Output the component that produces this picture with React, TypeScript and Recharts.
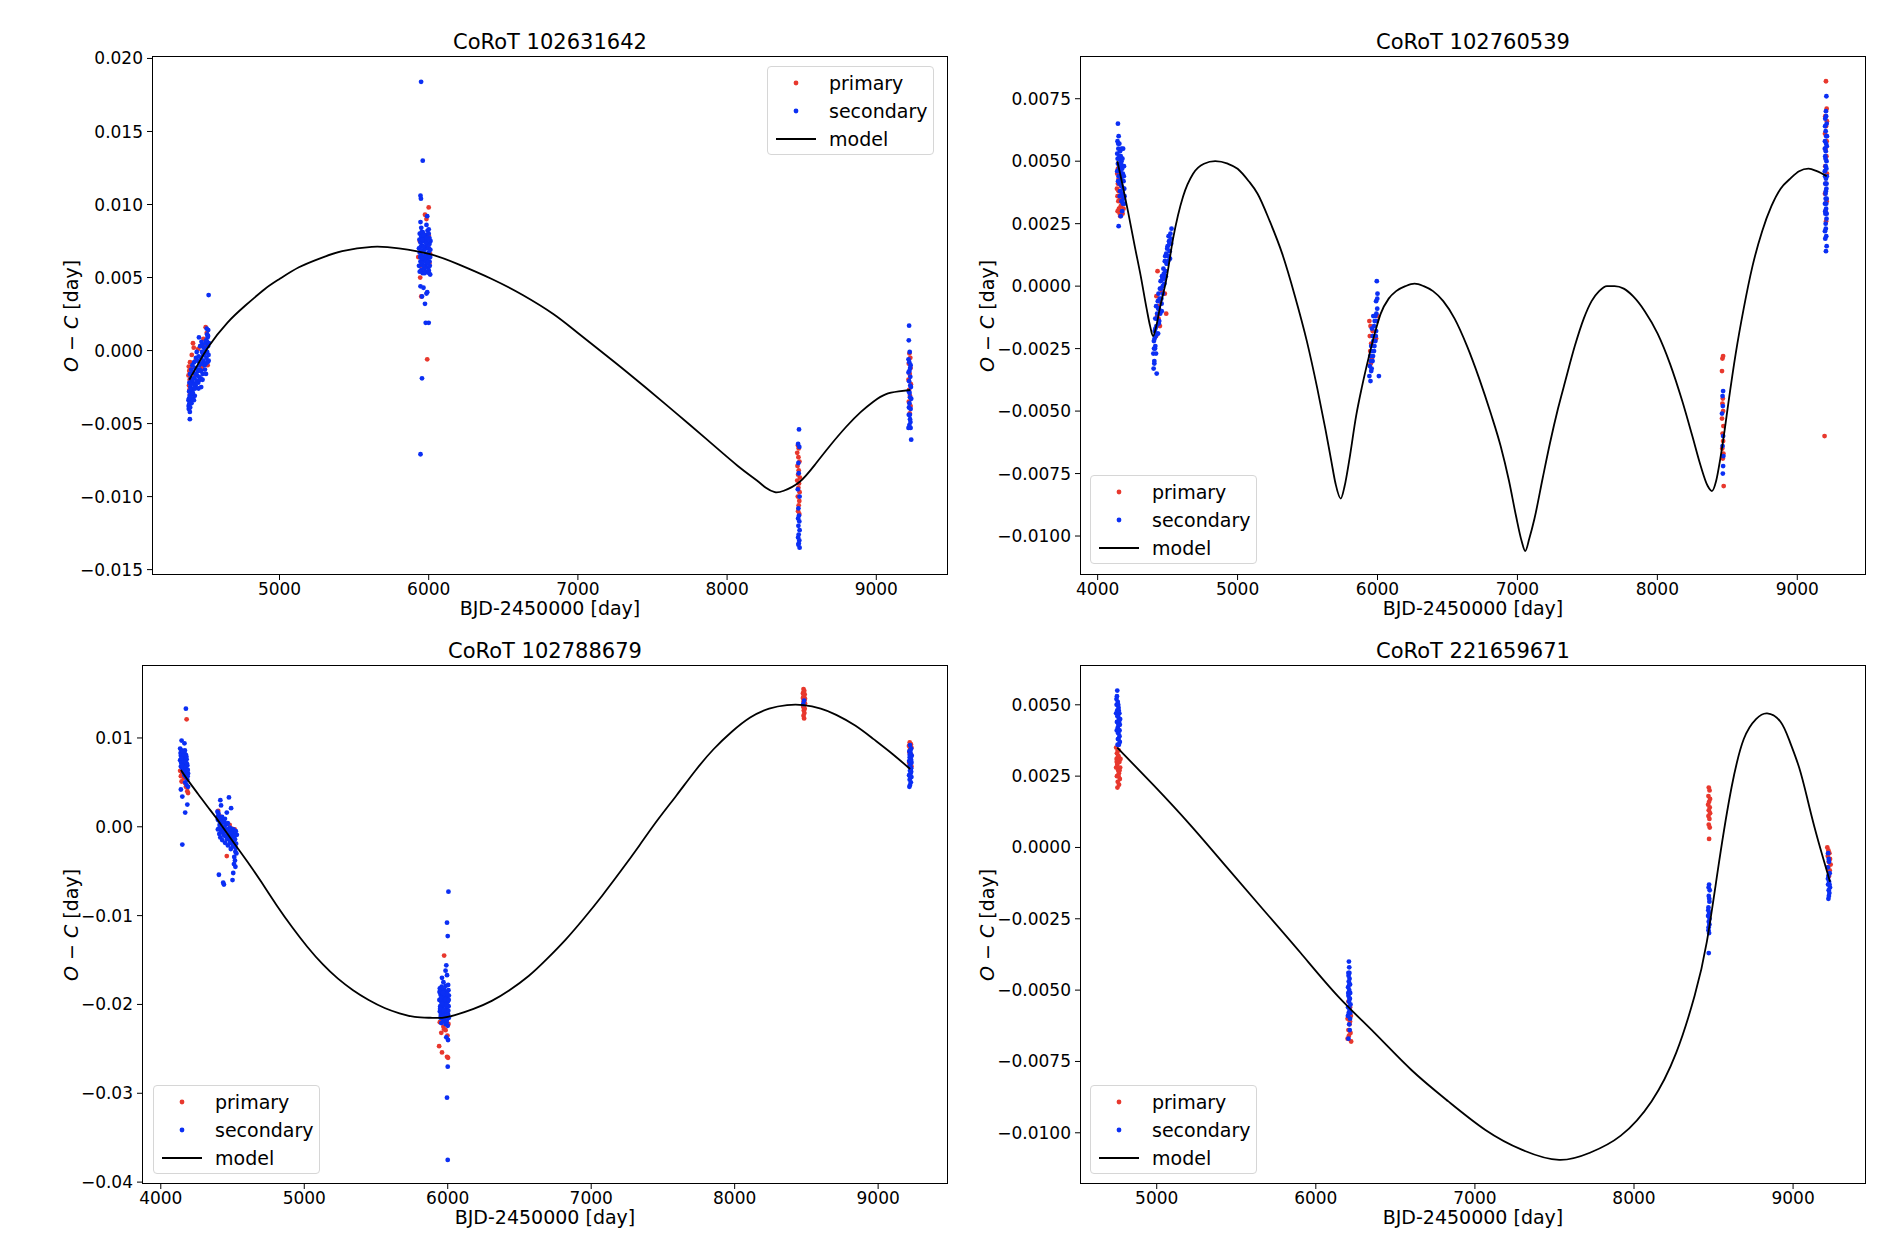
import React from "react";
import { ComposedChart, Scatter, Line, XAxis, YAxis } from "recharts";

type Pt = [number, number];

const FONT = "DejaVu Sans";
const RED = "#e8382d";
const BLUE = "#0b2ff4";

// ---------- CoRoT 102631642 (top left) ----------
const tlPrimary: Pt[] = [
  [4392, -0.0011], [4395, -0.0014], [4390, -0.0017], [4398, -0.002], [4393, -0.0024], [4400, -0.0008],
  [4405, -0.0012], [4412, -0.0003], [4420, 0.0005], [4425, 0.0002], [4440, -0.0006], [4455, 0.0001],
  [4470, 0.0003], [4490, 0.0008], [4505, 0.0016], [4512, 0.0012], [4518, -0.001], [4508, 0.0004],
  [4480, -0.0012], [4430, -0.0016], [4400, -0.003], [4396, -0.0027],
  [6000, 0.0098], [5975, 0.0093], [5985, 0.009], [5943, 0.005], [5950, 0.0037], [5990, -0.0006],
  [5940, 0.0075], [6005, 0.006], [5955, 0.0068], [5995, 0.0071], [5930, 0.0064], [6010, 0.0066],
  [5945, 0.0058], [6000, 0.0079],
  [8475, -0.0065], [8480, -0.0067], [8470, -0.007], [8478, -0.0073], [8485, -0.0076], [8472, -0.0079],
  [8480, -0.0082], [8476, -0.0085], [8488, -0.0087], [8470, -0.0089], [8482, -0.0091], [8478, -0.0094],
  [8486, -0.0097], [8474, -0.01], [8484, -0.0103], [8480, -0.0106], [8476, -0.011], [8484, -0.0112],
  [9222, -0.0002], [9228, -0.0005], [9218, -0.0009], [9230, -0.0012], [9224, -0.0016], [9216, -0.002],
  [9232, -0.0023], [9220, -0.0027], [9226, -0.0031], [9218, -0.0035], [9230, -0.0038], [9224, -0.0043],
];
const tlSecondary: Pt[] = [
  [4392, -0.004], [4395, -0.0037], [4390, -0.0034], [4398, -0.0031], [4394, -0.0028], [4402, -0.0025],
  [4396, -0.0022], [4405, -0.0019], [4400, -0.0016], [4408, -0.0013], [4391, -0.0038], [4399, -0.0042],
  [4403, -0.0035], [4407, -0.0029], [4399, -0.0047],
  [4415, -0.0033], [4420, -0.003], [4425, -0.0026], [4418, -0.0022], [4430, -0.0019], [4422, -0.0015],
  [4435, -0.0012], [4428, -0.0008], [4440, -0.0005], [4445, -0.0001], [4438, -0.0024], [4448, -0.0017],
  [4412, -0.0027], [4432, -0.0031],
  [4455, -0.0022], [4460, -0.0018], [4465, -0.0013], [4470, -0.0009], [4475, -0.0005], [4480, -0.0001],
  [4468, 0.0003], [4460, 0.0009], [4475, -0.0025], [4485, -0.0016], [4490, -0.0007], [4458, -0.0004],
  [4482, 0.0004], [4472, -0.0019],
  [4500, -0.0013], [4505, -0.0009], [4510, -0.0005], [4515, -0.0001], [4520, 0.0003], [4508, 0.0007],
  [4515, 0.0011], [4522, 0.0014], [4512, 0.0015], [4525, -0.0007], [4518, 0.0009], [4502, 0.0001],
  [4495, -0.0003], [4525, 0.0038],
  [4393, -0.0033], [4397, -0.0036], [4401, -0.0039], [4404, -0.0032], [4406, -0.0023], [4410, -0.0036],
  [4413, -0.002], [4416, -0.001], [4419, -0.0029], [4423, -0.0019], [4426, -0.0034], [4429, -0.0023],
  [4433, -0.0026], [4436, -0.0016], [4442, -0.0012], [4446, -0.0021], [4451, -0.0007], [4453, -0.0014],
  [4457, -0.0026], [4462, -0.001], [4466, -0.002], [4473, -0.0014], [4477, 0.0006], [4479, -0.0009],
  [4484, -0.002], [4488, -0.0003], [4492, 0.0002], [4497, -0.001], [4503, 0.0005], [4507, -0.0016],
  [4511, -0.0001], [4514, 0.0006], [4517, -0.0008], [4521, 0.001], [4524, -0.0003], [4527, 0.0005],
  [5940, 0.008], [5950, 0.0078], [5960, 0.0081], [5970, 0.0077], [5980, 0.0079], [5990, 0.0076],
  [6000, 0.008], [6005, 0.0077], [5945, 0.0074], [5955, 0.0072], [5965, 0.0075], [5975, 0.0071],
  [5985, 0.0073], [5995, 0.007], [6005, 0.0073], [5935, 0.007], [5940, 0.0067], [5950, 0.0065],
  [5960, 0.0068], [5970, 0.0064], [5980, 0.0066], [5990, 0.0063], [6000, 0.0067], [6010, 0.0064],
  [5945, 0.0061], [5955, 0.0059], [5965, 0.0062], [5975, 0.0058], [5985, 0.006], [5995, 0.0057],
  [6005, 0.0061], [5935, 0.0058], [5950, 0.0055], [5960, 0.0053], [5970, 0.0056], [5985, 0.0054],
  [6000, 0.0055], [6010, 0.0052],
  [5938, 0.0076], [5943, 0.0064], [5947, 0.0071], [5953, 0.0081], [5957, 0.0063], [5962, 0.0058],
  [5967, 0.0079], [5972, 0.0069], [5977, 0.0061], [5982, 0.0074], [5987, 0.0066], [5992, 0.0082],
  [5997, 0.0064], [6002, 0.007], [6007, 0.0058], [6012, 0.0075], [5940, 0.0054], [5952, 0.006],
  [5963, 0.0071], [5973, 0.0053], [5983, 0.0077], [5993, 0.006], [6003, 0.0053], [6011, 0.0069],
  [5958, 0.0076], [5978, 0.0065], [5998, 0.0076], [5948, 0.0068],
  [5949, 0.0184], [5960, 0.013], [5945, 0.0106], [5948, 0.0104], [5990, 0.0092], [5945, 0.0088],
  [5985, 0.0086], [6000, 0.0083], [5950, 0.0084], [5945, 0.0044], [5965, 0.0043], [5990, 0.004],
  [5955, 0.0037], [5975, 0.0032], [5985, 0.0039], [5980, 0.0019], [6000, 0.0019], [5955, -0.0019],
  [5945, -0.0071],
  [8482, -0.0054], [8476, -0.0064], [8484, -0.0066], [8478, -0.0077], [8480, -0.0084], [8474, -0.0095],
  [8486, -0.01], [8478, -0.0108], [8482, -0.0113], [8476, -0.0115], [8484, -0.0117], [8478, -0.012],
  [8486, -0.0123], [8480, -0.0126], [8476, -0.0128], [8484, -0.013], [8480, -0.0132], [8486, -0.0135],
  [8478, -0.0133],
  [9220, 0.0017], [9218, 0.0007], [9224, -0.0001], [9216, -0.0006], [9230, -0.001], [9222, -0.0014],
  [9228, -0.0018], [9220, -0.0021], [9232, -0.0025], [9218, -0.0028], [9226, -0.0032], [9222, -0.0036],
  [9230, -0.004], [9218, -0.0044], [9226, -0.0047], [9222, -0.0051], [9230, -0.0053], [9216, -0.0053],
  [9234, -0.0061], [9228, -0.0024], [9216, -0.0015], [9234, -0.0033], [9221, -0.0008], [9227, -0.0012],
  [9219, -0.0039], [9225, -0.0044], [9223, -0.0029], [9229, -0.0049],
];
const tlModel: Pt[] = [
  [4395, -0.002], [4450, -0.001], [4526, 0.0003], [4650, 0.0019], [4773, 0.0031], [4900, 0.0042],
  [5000, 0.0049], [5130, 0.0057], [5268, 0.0063], [5420, 0.0068], [5619, 0.0071], [5800, 0.007],
  [6010, 0.0066], [6200, 0.0059], [6423, 0.0049], [6630, 0.0038], [6835, 0.0025], [7000, 0.0012],
  [7247, -0.0008], [7450, -0.0025], [7660, -0.0043], [7866, -0.0061], [8072, -0.0079], [8200, -0.0089],
  [8260, -0.0094], [8320, -0.0097], [8380, -0.0096], [8485, -0.009], [8590, -0.0078], [8691, -0.0065],
  [8800, -0.0052], [8897, -0.0042], [8980, -0.0035], [9062, -0.003], [9150, -0.0028], [9227, -0.0027],
];
const tlXTicks = [5000, 6000, 7000, 8000, 9000];
const tlYTicks = [-0.015, -0.01, -0.005, 0, 0.005, 0.01, 0.015, 0.02];

// ---------- CoRoT 102760539 (top right) ----------
const trPrimary: Pt[] = [
  [4140, 0.0045], [4150, 0.0043], [4145, 0.0041], [4138, 0.0039], [4155, 0.0038], [4142, 0.0036],
  [4160, 0.0035], [4148, 0.0034], [4165, 0.0032], [4152, 0.0031], [4170, 0.003], [4158, 0.0029],
  [4175, 0.0033], [4162, 0.0028], [4180, 0.0036], [4145, 0.0047], [4168, 0.004], [4185, 0.0031],
  [4143, 0.003], [4157, 0.0042], [4172, 0.0037], [4178, 0.0029], [4164, 0.0034], [4150, 0.0038],
  [4420, -0.0004], [4430, -0.0008], [4425, -0.0012], [4440, -0.0006], [4435, -0.0013], [4450, -0.001],
  [4445, -0.0016], [4428, 0.0006], [4490, -0.0011], [4480, -0.0003], [4418, -0.002], [4460, -0.0002],
  [5950, -0.0016], [5945, -0.002], [5955, -0.0023], [5948, -0.0026], [5960, -0.0029], [5952, -0.0031],
  [5965, -0.0018], [5990, -0.0021], [6000, -0.0012], [5942, -0.0014],
  [8465, -0.0029], [8470, -0.0028], [8462, -0.0034], [8468, -0.0045], [8465, -0.0047], [8470, -0.005],
  [8462, -0.0053], [8472, -0.0056], [8466, -0.0059], [8470, -0.0062], [8464, -0.0065], [8472, -0.0067],
  [8468, -0.0069], [8474, -0.008],
  [9205, 0.0082], [9210, 0.0071], [9200, 0.0068], [9212, 0.0066], [9205, 0.0064], [9198, 0.0061],
  [9210, 0.0058], [9202, 0.0055], [9208, 0.0052], [9200, 0.0048], [9212, 0.0045], [9204, 0.0041],
  [9198, 0.0037], [9210, 0.0034], [9202, 0.003], [9206, 0.0026], [9195, -0.006],
];
const trSecondary: Pt[] = [
  [4145, 0.0065], [4150, 0.006], [4142, 0.0058], [4155, 0.0057], [4148, 0.0055], [4160, 0.0054],
  [4140, 0.0053], [4165, 0.0052], [4152, 0.0051], [4170, 0.005], [4145, 0.0049], [4158, 0.0048],
  [4175, 0.0047], [4162, 0.0046], [4180, 0.0045], [4150, 0.0044], [4168, 0.0043], [4185, 0.0042],
  [4155, 0.0041], [4172, 0.004], [4190, 0.0039], [4160, 0.0038], [4178, 0.0037], [4185, 0.0035],
  [4170, 0.0034], [4190, 0.0033], [4175, 0.003], [4165, 0.0028], [4150, 0.0024], [4182, 0.0055],
  [4188, 0.0048], [4140, 0.0046],
  [4143, 0.0051], [4147, 0.0057], [4153, 0.0047], [4157, 0.0052], [4163, 0.0044], [4167, 0.0049],
  [4173, 0.0042], [4177, 0.0051], [4183, 0.0039], [4187, 0.0044], [4192, 0.0036], [4146, 0.0042],
  [4171, 0.0055], [4158, 0.0036], [4181, 0.0033],
  [4400, -0.0033], [4405, -0.003], [4398, -0.0027], [4410, -0.0025], [4402, -0.0022], [4415, -0.002],
  [4408, -0.0018], [4420, -0.0016], [4412, -0.0013], [4425, -0.0011], [4418, -0.0008], [4430, -0.0006],
  [4435, -0.0003], [4440, -0.0014], [4445, -0.0001], [4450, 0.0002], [4455, -0.0005], [4460, 0.0004],
  [4465, 0], [4470, 0.0007], [4475, 0.0003], [4480, 0.001], [4485, 0.0006], [4490, 0.0013],
  [4495, 0.0009], [4500, 0.0016], [4505, 0.0012], [4510, 0.0018], [4515, 0.0014], [4520, 0.0021],
  [4525, 0.0017], [4528, 0.0023], [4422, -0.0035], [4405, -0.0031], [4412, -0.0024], [4432, -0.0019],
  [4438, -0.0009], [4458, -0.001],
  [4403, -0.0025], [4407, -0.0021], [4413, -0.0017], [4417, -0.0027], [4423, -0.0013], [4427, -0.0019],
  [4433, -0.0009], [4437, -0.0015], [4443, -0.0005], [4447, -0.0011], [4453, -0.0001], [4457, -0.0007],
  [4463, 0.0003], [4467, -0.0003], [4473, 0.0005], [4477, 0.0001], [4483, 0.0012], [4487, 0.0004],
  [4493, 0.0009], [4497, 0.0015], [4503, 0.001], [4507, 0.002], [4513, 0.0017], [4517, 0.0011],
  [4523, 0.0019],
  [5995, 0.0002], [6000, -0.0003], [5990, -0.0006], [5998, -0.0009], [5985, -0.0012], [5995, -0.0014],
  [5975, -0.0016], [5990, -0.0018], [5965, -0.002], [5985, -0.0022], [5955, -0.0024], [5975, -0.0026],
  [5948, -0.0028], [5965, -0.003], [5945, -0.0032], [5955, -0.0034], [5942, -0.0036], [5950, -0.0038],
  [6010, -0.0036], [5970, -0.0012], [5960, -0.0017], [5998, -0.0005], [5980, -0.0014], [5988, -0.002],
  [5970, -0.0022], [5960, -0.0026], [5952, -0.003], [5958, -0.0033], [5968, -0.0028], [5978, -0.0024],
  [5992, -0.0011],
  [8470, -0.0042], [8466, -0.0044], [8468, -0.0048], [8462, -0.0051], [8470, -0.006], [8466, -0.0064],
  [8472, -0.0068], [8470, -0.0072], [8468, -0.0075],
  [9208, 0.0076], [9205, 0.007], [9200, 0.0067], [9210, 0.0065], [9203, 0.0062], [9207, 0.006],
  [9198, 0.0058], [9211, 0.0056], [9204, 0.0054], [9200, 0.0052], [9209, 0.005], [9203, 0.0048],
  [9197, 0.0046], [9211, 0.0044], [9205, 0.0043], [9200, 0.0041], [9208, 0.0039], [9202, 0.0037],
  [9210, 0.0035], [9198, 0.0033], [9206, 0.0031], [9201, 0.0029], [9209, 0.0027], [9203, 0.0025],
  [9198, 0.0022], [9207, 0.002], [9200, 0.0019], [9210, 0.0016], [9205, 0.0014],
  [9199, 0.0064], [9206, 0.0057], [9202, 0.0051], [9208, 0.0047], [9199, 0.0044], [9204, 0.0038],
  [9207, 0.0033], [9200, 0.003], [9210, 0.0029], [9204, 0.0023], [9212, 0.006], [9197, 0.0055],
  [9209, 0.0041], [9203, 0.0035], [9206, 0.0068],
];
const trModel: Pt[] = [
  [4141, 0.005], [4180, 0.004], [4220, 0.0029], [4265, 0.0016], [4308, 0.0004], [4350, -0.0009],
  [4375, -0.0016], [4396, -0.002], [4415, -0.0017], [4444, -0.0009], [4492, 0.0003], [4539, 0.0019],
  [4611, 0.0036], [4682, 0.0045], [4760, 0.0049], [4840, 0.005], [4930, 0.0049], [5000, 0.0047],
  [5080, 0.0042], [5143, 0.0037], [5230, 0.0026], [5319, 0.0013], [5410, -0.0004], [5495, -0.0022],
  [5570, -0.0041], [5627, -0.0057], [5670, -0.007], [5700, -0.0079], [5737, -0.0085], [5765, -0.008],
  [5800, -0.0069], [5847, -0.0052], [5890, -0.004], [5935, -0.0029], [5980, -0.0019], [6023, -0.0011],
  [6080, -0.0005], [6133, -0.0002], [6200, 0], [6265, 0.0001], [6330, 0], [6397, -0.0002],
  [6470, -0.0006], [6551, -0.0013], [6640, -0.0024], [6727, -0.0037], [6810, -0.0051], [6880, -0.0064],
  [6940, -0.0078], [6990, -0.0092], [7030, -0.0102], [7056, -0.0106], [7085, -0.0101], [7122, -0.0093],
  [7180, -0.0077], [7232, -0.0063], [7290, -0.0049], [7342, -0.0038], [7410, -0.0024], [7474, -0.0013],
  [7530, -0.0006], [7584, -0.0002], [7640, 0], [7694, 0], [7760, -0.0001], [7826, -0.0004],
  [7910, -0.001], [8002, -0.0019], [8090, -0.0031], [8178, -0.0046], [8250, -0.006], [8310, -0.0072],
  [8360, -0.008], [8390, -0.0082], [8420, -0.0078], [8450, -0.0069], [8480, -0.0058], [8507, -0.0047],
  [8560, -0.0027], [8617, -0.0009], [8680, 0.0008], [8749, 0.0022], [8815, 0.0032], [8881, 0.0039],
  [8950, 0.0043], [9013, 0.0046], [9080, 0.0047], [9140, 0.0046], [9210, 0.0044],
];
const trXTicks = [4000, 5000, 6000, 7000, 8000, 9000];
const trYTicks = [-0.01, -0.0075, -0.005, -0.0025, 0, 0.0025, 0.005, 0.0075];

// ---------- CoRoT 102788679 (bottom left) ----------
const blPrimary: Pt[] = [
  [4180, 0.0121], [4150, 0.006], [4140, 0.0057], [4160, 0.0055], [4145, 0.0051], [4170, 0.0049],
  [4175, 0.0045], [4185, 0.004], [4190, 0.0038], [4135, 0.0063], [4155, 0.0068], [4165, 0.0072],
  [4400, 0.0018], [4410, 0.0012], [4420, 0.0008], [4480, 0.0002], [4495, -0.0002], [4505, -0.0006],
  [4510, -0.001], [4500, -0.0014], [4515, -0.0003], [4460, -0.0033], [4450, -0.0005],
  [5975, -0.0145], [5950, -0.0205], [5960, -0.0212], [5990, -0.0208], [6000, -0.0215], [5945, -0.022],
  [5970, -0.0225], [6005, -0.0222], [5985, -0.0229], [5955, -0.0232], [5998, -0.0235], [5940, -0.0247],
  [5960, -0.0254], [5995, -0.0259], [6002, -0.026], [5975, -0.0228],
  [8480, 0.0155], [8485, 0.0153], [8478, 0.0151], [8488, 0.0149], [8482, 0.0147], [8476, 0.0145],
  [8486, 0.0143], [8480, 0.0141], [8490, 0.0139], [8484, 0.0137], [8478, 0.0135], [8488, 0.0133],
  [8482, 0.0131], [8486, 0.0128], [8480, 0.0125], [8484, 0.0122], [8476, 0.015], [8490, 0.0144],
  [9220, 0.0095], [9228, 0.0093], [9215, 0.0091], [9232, 0.0089], [9222, 0.0087], [9218, 0.0084],
  [9230, 0.0081], [9225, 0.0078], [9216, 0.0072], [9232, 0.0068],
];
const blSecondary: Pt[] = [
  [4135, 0.0088], [4145, 0.0086], [4155, 0.0084], [4165, 0.0083], [4175, 0.0081], [4140, 0.008],
  [4150, 0.0079], [4160, 0.0078], [4170, 0.0077], [4180, 0.0076], [4135, 0.0075], [4145, 0.0074],
  [4155, 0.0072], [4165, 0.0071], [4175, 0.007], [4185, 0.0069], [4140, 0.0068], [4150, 0.0066],
  [4160, 0.0065], [4170, 0.0064], [4180, 0.0062], [4190, 0.006], [4165, 0.0058], [4175, 0.0056],
  [4185, 0.0053], [4170, 0.005], [4180, 0.0047], [4190, 0.0045],
  [4138, 0.0083], [4142, 0.0072], [4148, 0.0082], [4152, 0.0069], [4158, 0.0081], [4162, 0.0074],
  [4168, 0.0086], [4172, 0.0067], [4178, 0.0079], [4182, 0.0071], [4188, 0.0064], [4143, 0.0077],
  [4157, 0.0062], [4177, 0.0059], [4187, 0.0057], [4163, 0.0061], [4153, 0.0085], [4173, 0.0073],
  [4175, 0.0133], [4145, 0.0097], [4165, 0.0094], [4150, 0.0034], [4185, 0.0025], [4170, 0.0016],
  [4150, -0.002], [4140, 0.0042],
  [4395, 0.0017], [4400, 0.0012], [4405, 0.0007], [4410, 0.0002], [4398, -0.0003], [4408, -0.0008],
  [4415, -0.0012], [4420, 0.001], [4425, 0.0004], [4430, -0.0002], [4435, -0.0007], [4428, -0.0015],
  [4440, 0.0006], [4445, 0], [4450, -0.0005], [4455, -0.0011], [4448, -0.0018], [4460, 0.0003],
  [4465, -0.0003], [4470, -0.0009], [4475, -0.0014], [4468, -0.0021], [4480, -0.0001], [4485, -0.0007],
  [4490, -0.0012], [4495, -0.0018], [4488, -0.0025], [4500, -0.0005], [4505, -0.0011], [4510, -0.0016],
  [4515, -0.0022], [4520, -0.0028], [4512, -0.0034], [4525, -0.0019], [4530, -0.0009],
  [4398, 0.0008], [4402, 0.0015], [4405, -0.0002], [4412, 0.0009], [4418, 0.0003], [4422, -0.0005],
  [4427, 0.0011], [4432, 0.0006], [4438, -0.0002], [4442, -0.001], [4447, 0.0009], [4452, 0.0003],
  [4457, -0.0004], [4462, -0.0014], [4467, 0.0004], [4472, -0.0004], [4477, -0.001], [4482, -0.0018],
  [4487, -0.0002], [4492, -0.0008], [4497, -0.0015], [4502, -0.0022], [4507, -0.0003], [4512, -0.0009],
  [4517, -0.0014], [4522, -0.0024], [4527, -0.003], [4517, -0.0038], [4510, -0.0042], [4523, -0.0005],
  [4415, 0.003], [4475, 0.0033], [4420, 0.0024], [4490, 0.0021], [4460, 0.0016], [4405, -0.0054],
  [4435, -0.0063], [4440, -0.0065], [4500, -0.006], [4505, -0.0052], [4520, -0.0045],
  [5945, -0.0182], [5960, -0.0185], [5975, -0.0183], [5990, -0.0186], [6005, -0.0184],
  [5950, -0.0189], [5965, -0.0191], [5980, -0.019], [5995, -0.0192], [6008, -0.019],
  [5942, -0.0195], [5955, -0.0197], [5970, -0.0196], [5985, -0.0198], [6000, -0.0197],
  [5948, -0.0202], [5962, -0.0203], [5978, -0.0201], [5992, -0.0204], [6006, -0.0202],
  [5945, -0.0208], [5958, -0.0209], [5972, -0.021], [5988, -0.0208], [6002, -0.0211],
  [5950, -0.0215], [5965, -0.0216], [5980, -0.0214], [5995, -0.0217], [6008, -0.0215],
  [5955, -0.0221], [5985, -0.0222], [6000, -0.0224],
  [5943, -0.0186], [5953, -0.0193], [5967, -0.0187], [5982, -0.0194], [5997, -0.0188], [6007, -0.0195],
  [5947, -0.0205], [5960, -0.0199], [5975, -0.0206], [5990, -0.02], [6004, -0.0207], [5952, -0.0212],
  [5968, -0.0213], [5983, -0.0218], [5998, -0.0212], [5958, -0.018], [5987, -0.0179], [6003, -0.0178],
  [5970, -0.0219], [5992, -0.022],
  [6005, -0.0073], [5995, -0.0108], [6000, -0.0123], [5990, -0.0156], [5985, -0.0162], [5970, -0.0175],
  [5960, -0.017], [5995, -0.0167], [5990, -0.0237], [6002, -0.024], [6000, -0.027], [5995, -0.0305],
  [6000, -0.0375],
  [8478, 0.0138], [8484, 0.0142],
  [9222, 0.0092], [9230, 0.0088], [9218, 0.0085], [9226, 0.0083], [9234, 0.008], [9220, 0.0078],
  [9228, 0.0076], [9216, 0.0074], [9232, 0.0072], [9224, 0.007], [9218, 0.0068], [9230, 0.0066],
  [9222, 0.0063], [9226, 0.006], [9216, 0.0058], [9232, 0.0056], [9220, 0.0053], [9228, 0.005],
  [9222, 0.0047], [9218, 0.0045], [9224, 0.0086], [9220, 0.0081], [9230, 0.0074], [9226, 0.0067],
  [9222, 0.0057], [9230, 0.0062],
];
const blModel: Pt[] = [
  [4140, 0.0064], [4200, 0.005], [4260, 0.0037], [4320, 0.0024], [4377, 0.0012], [4430, 0],
  [4500, -0.0016], [4549, -0.0027], [4620, -0.0043], [4700, -0.0062], [4806, -0.0088], [4920, -0.0114],
  [5021, -0.0135], [5130, -0.0155], [5235, -0.0171], [5340, -0.0184], [5449, -0.0195], [5560, -0.0204],
  [5664, -0.021], [5770, -0.0214], [5878, -0.0215], [5960, -0.0215], [6050, -0.0212], [6180, -0.0205],
  [6307, -0.0196], [6430, -0.0184], [6564, -0.0168], [6690, -0.0149], [6822, -0.0127], [6950, -0.0103],
  [7079, -0.0077], [7210, -0.0049], [7336, -0.0021], [7460, 0.0007], [7593, 0.0035], [7720, 0.0062],
  [7851, 0.0087], [7980, 0.0107], [8108, 0.0123], [8240, 0.0133], [8365, 0.0137], [8480, 0.0137],
  [8600, 0.0133], [8708, 0.0126], [8840, 0.0114], [8966, 0.0099], [9100, 0.0082], [9223, 0.0065],
];
const blXTicks = [4000, 5000, 6000, 7000, 8000, 9000];
const blYTicks = [-0.04, -0.03, -0.02, -0.01, 0, 0.01];

// ---------- CoRoT 221659671 (bottom right) ----------
const brPrimary: Pt[] = [
  [4745, 0.0035], [4755, 0.0034], [4750, 0.0033], [4760, 0.0032], [4748, 0.0031], [4765, 0.003],
  [4752, 0.0029], [4770, 0.0028], [4758, 0.0027], [4762, 0.0026], [4750, 0.0025], [4768, 0.0024],
  [4755, 0.0023], [4763, 0.0022], [4772, 0.0031], [4745, 0.0028], [4749, 0.003], [4757, 0.0032],
  [4760, 0.0025], [4766, 0.0027], [4753, 0.0021], [4761, 0.0034],
  [6205, -0.0054], [6215, -0.0056], [6210, -0.0058], [6200, -0.006], [6220, -0.0059], [6212, -0.0062],
  [6205, -0.0064], [6218, -0.0065], [6208, -0.0066], [6222, -0.0068], [6200, -0.0067], [6215, -0.0061],
  [8470, 0.0021], [8475, 0.002], [8468, 0.0018], [8478, 0.0017], [8472, 0.0016], [8466, 0.0015],
  [8476, 0.0014], [8470, 0.0013], [8478, 0.0012], [8468, 0.0011], [8474, 0.001], [8470, 0.0008],
  [8476, 0.0007], [8472, 0.0003],
  [9215, 0], [9222, -0.0001], [9228, -0.0002], [9218, -0.0003], [9232, -0.0004], [9224, -0.0005],
  [9236, -0.0006], [9220, -0.0007], [9230, -0.0008], [9226, -0.001],
];
const brSecondary: Pt[] = [
  [4752, 0.0055], [4750, 0.0053], [4755, 0.0051], [4748, 0.005], [4760, 0.0049], [4752, 0.0048],
  [4765, 0.0047], [4757, 0.0046], [4762, 0.0045], [4750, 0.0044], [4768, 0.0043], [4755, 0.0042],
  [4763, 0.0041], [4758, 0.004], [4766, 0.0039], [4760, 0.0038], [4768, 0.0037], [4762, 0.0036],
  [4745, 0.0047], [4770, 0.0045], [4747, 0.0052], [4753, 0.0046], [4758, 0.005], [4764, 0.0044],
  [4749, 0.0041], [4756, 0.0038], [4766, 0.0041], [4759, 0.0043], [4761, 0.0048], [4754, 0.0036],
  [6208, -0.004], [6210, -0.0042], [6205, -0.0044], [6212, -0.0046], [6207, -0.0047], [6215, -0.0048],
  [6203, -0.0049], [6210, -0.005], [6216, -0.0051], [6205, -0.0052], [6212, -0.0053], [6208, -0.0054],
  [6218, -0.0055], [6203, -0.0056], [6212, -0.0057], [6207, -0.0058], [6215, -0.006], [6210, -0.0062],
  [6213, -0.0064], [6205, -0.0067], [6206, -0.0045], [6211, -0.0048], [6204, -0.0051], [6214, -0.0053],
  [6209, -0.0056], [6202, -0.0059], [6217, -0.0058], [6211, -0.0044],
  [8472, -0.0013], [8476, -0.0015], [8470, -0.0017], [8474, -0.0019], [8468, -0.0021], [8472, -0.0023],
  [8466, -0.0024], [8470, -0.0026], [8474, -0.0027], [8468, -0.0029], [8472, -0.003], [8470, -0.0037],
  [8469, -0.0014], [8473, -0.0018], [8467, -0.0022], [8475, -0.0025], [8469, -0.0028],
  [9220, -0.0002], [9226, -0.0005], [9218, -0.0007], [9230, -0.0009], [9222, -0.001], [9226, -0.0012],
  [9220, -0.0013], [9232, -0.0014], [9224, -0.0015], [9228, -0.0016], [9222, -0.0018], [9224, -0.0004],
  [9219, -0.0011], [9229, -0.0013], [9225, -0.0017],
];
const brModel: Pt[] = [
  [4752, 0.0035], [4977, 0.0022], [5209, 0.0008], [5441, -0.0007], [5673, -0.0022], [5905, -0.0037],
  [6137, -0.0052], [6369, -0.0065], [6601, -0.0078], [6833, -0.0089], [7066, -0.0099], [7298, -0.0106],
  [7530, -0.01095], [7723, -0.0107], [7917, -0.0101], [8110, -0.0089], [8265, -0.0072], [8381, -0.0052],
  [8458, -0.0033], [8535, -0.0005], [8613, 0.0021], [8690, 0.0038], [8767, 0.0045], [8837, 0.0047],
  [8922, 0.0044], [8980, 0.0037], [9038, 0.0028], [9090, 0.0017], [9135, 0.0007], [9185, -0.0003],
  [9232, -0.0012],
];
const brXTicks = [5000, 6000, 7000, 8000, 9000];
const brYTicks = [-0.01, -0.0075, -0.005, -0.0025, 0, 0.0025, 0.005];

const toXY = (pts: Pt[]) => pts.map(([x, y]) => ({ x, y }));

const fmt = (d: number) => (v: number) =>
  v < 0 ? "\u2212" + Math.abs(v).toFixed(d) : v.toFixed(d);

const dot = (props: any) => <circle cx={props.cx} cy={props.cy} r={2.4} fill={props.fill} />;

interface PanelProps {
  title: string;
  left: number;
  top: number;
  right: number;
  bottom: number;
  xDomain: [number, number];
  yDomain: [number, number];
  xTicks: number[];
  yTicks: number[];
  decimals: number;
  primary: Pt[];
  secondary: Pt[];
  model: Pt[];
  curve: "monotone" | "natural";
  legend: [number, number];
  yLabelX: number;
}

function Legend({ left, top }: { left: number; top: number }) {
  const rows = [
    { label: "primary", kind: "dot", color: RED },
    { label: "secondary", kind: "dot", color: BLUE },
    { label: "model", kind: "line", color: "#000" },
  ];
  return (
    <div
      style={{
        position: "absolute",
        left,
        top,
        width: 167,
        height: 89,
        boxSizing: "border-box",
        border: "1px solid #d6d6d6",
        borderRadius: 4,
        background: "rgba(255,255,255,0.8)",
      }}
    >
      {rows.map((r, i) => (
        <div key={r.label} style={{ position: "absolute", left: 0, top: 4 + i * 28, height: 24, width: "100%" }}>
          <svg width={50} height={24} style={{ position: "absolute", left: 6, top: 0 }}>
            {r.kind === "dot" ? (
              <circle cx={22} cy={12} r={2.4} fill={r.color} />
            ) : (
              <line x1={2} y1={12} x2={42} y2={12} stroke="#000" strokeWidth={1.8} />
            )}
          </svg>
          <span style={{ position: "absolute", left: 61, top: 0, fontSize: 19, lineHeight: "24px" }}>{r.label}</span>
        </div>
      ))}
    </div>
  );
}

function Panel(p: PanelProps) {
  const M = 24;
  const YW = 90;
  const XH = 34;
  const w = p.right - p.left;
  const h = p.bottom - p.top;
  const cx = (p.left + p.right) / 2;
  const tickStyle = { fill: "#000", fontSize: 17, fontFamily: FONT };
  return (
    <>
      <div style={{ position: "absolute", left: p.left - YW - M, top: p.top - M }}>
        <ComposedChart
          width={YW + w + 2 * M}
          height={h + XH + 2 * M}
          margin={{ top: M, right: M, bottom: M, left: M }}
        >
          <XAxis
            type="number"
            dataKey="x"
            domain={p.xDomain}
            ticks={p.xTicks}
            interval={0}
            allowDataOverflow
            height={XH}
            tickSize={6}
            tickMargin={3}
            axisLine={false}
            tickLine={{ stroke: "#000" }}
            tick={tickStyle}
          />
          <YAxis
            type="number"
            dataKey="y"
            domain={p.yDomain}
            ticks={p.yTicks}
            interval={0}
            allowDataOverflow
            width={YW}
            tickSize={6}
            tickMargin={4}
            axisLine={false}
            tickLine={{ stroke: "#000" }}
            tick={tickStyle}
            tickFormatter={fmt(p.decimals)}
          />
          <Scatter data={toXY(p.primary)} fill={RED} shape={dot} isAnimationActive={false} />
          <Scatter data={toXY(p.secondary)} fill={BLUE} shape={dot} isAnimationActive={false} />
          <Line
            data={toXY(p.model)}
            dataKey="y"
            type={p.curve}
            stroke="#000"
            strokeWidth={1.8}
            dot={false}
            activeDot={false}
            isAnimationActive={false}
            zIndex={700}
          />
        </ComposedChart>
      </div>
      <div
        style={{
          position: "absolute",
          left: p.left - 1,
          top: p.top - 1,
          width: w + 2,
          height: h + 2,
          boxSizing: "border-box",
          border: "1px solid #000",
          pointerEvents: "none",
        }}
      />
      <div
        style={{
          position: "absolute",
          left: cx - 200,
          width: 400,
          top: p.top - 27,
          textAlign: "center",
          fontSize: 21,
          lineHeight: "24px",
        }}
      >
        {p.title}
      </div>
      <div
        style={{
          position: "absolute",
          left: cx - 200,
          width: 400,
          top: p.bottom + 22,
          textAlign: "center",
          fontSize: 19,
          lineHeight: "24px",
        }}
      >
        BJD-2450000 [day]
      </div>
      <div
        style={{
          position: "absolute",
          left: p.yLabelX,
          top: (p.top + p.bottom) / 2,
          transform: "translate(-50%, -50%) rotate(-90deg)",
          whiteSpace: "nowrap",
          fontSize: 19,
          lineHeight: "24px",
        }}
      >
        <i>O</i> {"\u2212"} <i>C</i> [day]
      </div>
      <Legend left={p.legend[0]} top={p.legend[1]} />
    </>
  );
}

export default function App() {
  return (
    <div
      style={{
        position: "absolute",
        left: 0,
        top: 0,
        width: 1904,
        height: 1246,
        background: "#fff",
        fontFamily: FONT,
        color: "#000",
        overflow: "hidden",
      }}
    >
      <Panel
        title="CoRoT 102631642"
        left={153}
        top={57}
        right={947}
        bottom={574}
        xDomain={[4152, 9474]}
        yDomain={[-0.0153, 0.0201]}
        xTicks={tlXTicks}
        yTicks={tlYTicks}
        decimals={3}
        primary={tlPrimary}
        secondary={tlSecondary}
        model={tlModel}
        curve="natural"
        legend={[767, 66]}
        yLabelX={71}
      />
      <Panel
        title="CoRoT 102760539"
        left={1081}
        top={57}
        right={1865}
        bottom={574}
        xDomain={[3881, 9484]}
        yDomain={[-0.01152, 0.00917]}
        xTicks={trXTicks}
        yTicks={trYTicks}
        decimals={4}
        primary={trPrimary}
        secondary={trSecondary}
        model={trModel}
        curve="monotone"
        legend={[1090, 475]}
        yLabelX={987}
      />
      <Panel
        title="CoRoT 102788679"
        left={143}
        top={666}
        right={947}
        bottom={1183}
        xDomain={[3876, 9480]}
        yDomain={[-0.0401, 0.0181]}
        xTicks={blXTicks}
        yTicks={blYTicks}
        decimals={2}
        primary={blPrimary}
        secondary={blSecondary}
        model={blModel}
        curve="natural"
        legend={[153, 1085]}
        yLabelX={71}
      />
      <Panel
        title="CoRoT 221659671"
        left={1081}
        top={666}
        right={1865}
        bottom={1183}
        xDomain={[4524, 9452]}
        yDomain={[-0.01176, 0.00636]}
        xTicks={brXTicks}
        yTicks={brYTicks}
        decimals={4}
        primary={brPrimary}
        secondary={brSecondary}
        model={brModel}
        curve="natural"
        legend={[1090, 1085]}
        yLabelX={987}
      />
    </div>
  );
}
